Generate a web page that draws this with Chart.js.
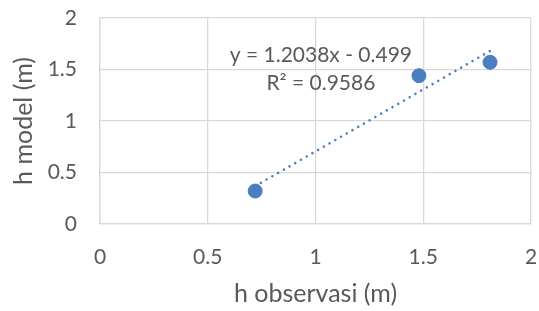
<!DOCTYPE html>
<html>
<head>
<meta charset="utf-8">
<script src="https://cdn.jsdelivr.net/npm/chart.js@4/dist/chart.umd.min.js"></script>
<style>
html,body{margin:0;padding:0;background:#fff;}
#wrap{width:539px;height:311px;}
</style>
</head>
<body>
<div id="wrap"><canvas id="c" width="539" height="311"></canvas></div>
<script>
// Data
const hObservasi = [0.72, 1.48, 1.81];
const hModel = [0.32, 1.44, 1.57];
const trendSlope = 1.2038;
const trendIntercept = -0.499;
const xTicks = [0, 0.5, 1, 1.5, 2];
const yTicks = [0, 0.5, 1, 1.5, 2];
const equationLines = ['y = 1.2038x - 0.499', 'R² = 0.9586'];
const xTitle = 'h observasi (m)';
const yTitle = 'h model (m)';

const points = hObservasi.map((x, i) => ({x: x, y: hModel[i]}));
const xMin = Math.min(...hObservasi), xMax = Math.max(...hObservasi);
const trend = [xMin, xMax].map(x => ({x: x, y: trendSlope * x + trendIntercept}));

const FONT = 'Lato, "Open Sans", sans-serif';
const TXT = '#595959';
const GRID = '#d9d9d9';
const BLUE = '#4A7EBF';

const eqPlugin = {
  id: 'eq',
  afterDatasetsDraw(chart) {
    const {ctx, scales} = chart;
    const cx = scales.x.getPixelForValue(1.025);
    const y1 = scales.y.getPixelForValue(1.64);
    const y2 = scales.y.getPixelForValue(1.37);
    ctx.save();
    ctx.fillStyle = TXT;
    ctx.font = '21px ' + FONT;
    ctx.textAlign = 'center';
    ctx.textBaseline = 'middle';
    ctx.fillText(equationLines[0], cx, y1);
    ctx.fillText(equationLines[1], cx, y2);
    ctx.restore();
  }
};

new Chart(document.getElementById('c'), {
  type: 'scatter',
  data: {
    datasets: [
      {
        label: 'trend',
        type: 'line',
        data: trend,
        borderColor: BLUE,
        borderWidth: 2.5,
        borderDash: [0.1, 6.5],
        borderCapStyle: 'round',
        pointRadius: 0,
        fill: false,
        order: 2
      },
      {
        label: 'data',
        data: points,
        backgroundColor: BLUE,
        borderColor: BLUE,
        pointRadius: 7,
        pointHoverRadius: 7,
        order: 1
      }
    ]
  },
  options: {
    responsive: false,
    animation: false,
    events: [],
    layout: {padding: {top: 18, right: 4, left: 0, bottom: 0}},
    plugins: {legend: {display: false}, tooltip: {enabled: false}},
    scales: {
      x: {
        type: 'linear',
        min: 0, max: 2,
        afterBuildTicks(s) { s.ticks = xTicks.map(v => ({value: v})); },
        afterFit(s) { s.height = 87; s.paddingLeft = 0; s.paddingRight = 0; },
        grid: {color: GRID, lineWidth: 1.3, drawTicks: false},
        border: {color: GRID, width: 1.3},
        ticks: {color: TXT, font: {family: FONT, size: 21}, padding: 21, maxRotation: 0,
                callback: v => String(v)},
        title: {display: true, text: xTitle, color: TXT, font: {family: FONT, size: 25}, padding: {top: 0, bottom: 2}}
      },
      y: {
        type: 'linear',
        min: 0, max: 2,
        afterBuildTicks(s) { s.ticks = yTicks.map(v => ({value: v})); },
        afterFit(s) { s.width = 100; s.paddingTop = 0; s.paddingBottom = 0; },
        grid: {color: GRID, lineWidth: 1.3, drawTicks: false},
        border: {color: GRID, width: 1.3},
        ticks: {color: TXT, font: {family: FONT, size: 21}, padding: 23,
                callback: v => String(v)},
        title: {display: true, text: yTitle, color: TXT, font: {family: FONT, size: 25}, padding: {top: 9, bottom: 0}}
      }
    }
  },
  plugins: [eqPlugin]
});
</script>
</body>
</html>
